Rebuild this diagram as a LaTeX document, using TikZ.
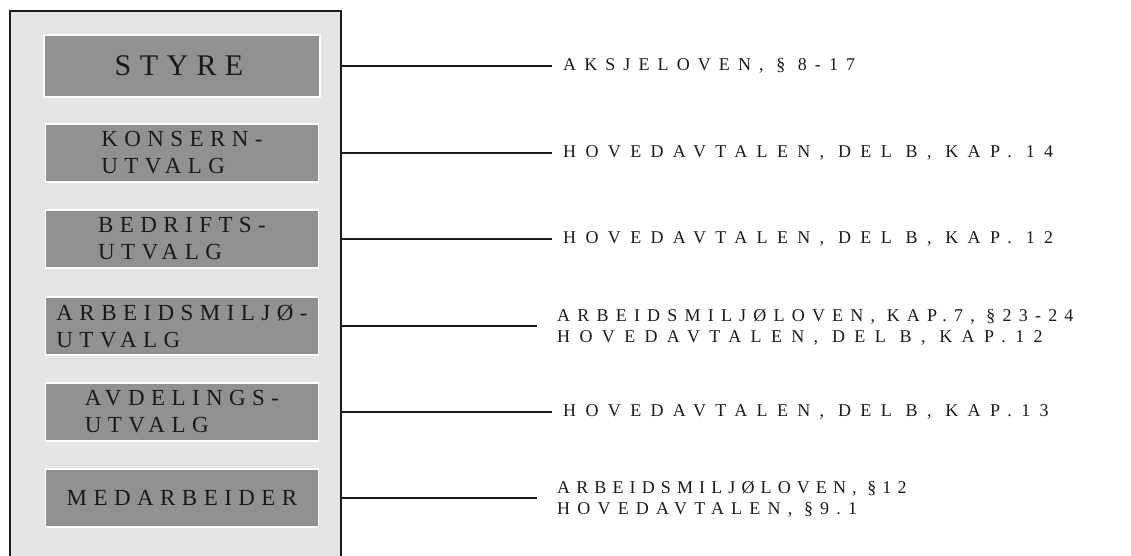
\documentclass[tikz,border=0pt]{standalone}
\usepackage{fontspec}
\setmainfont{Liberation Serif}
\newfontfamily\labfont[LetterSpace=52]{Liberation Serif}
\newfontfamily\labfonta[LetterSpace=45]{Liberation Serif}
\newfontfamily\labfontn[LetterSpace=40]{Liberation Serif}
\newfontfamily\labfontm[LetterSpace=34]{Liberation Serif}
\newfontfamily\boxfont[LetterSpace=28]{Liberation Serif}
\newfontfamily\bigboxfont[LetterSpace=28]{Liberation Serif}
\definecolor{panelgrey}{HTML}{E4E4E4}
\definecolor{boxgrey}{HTML}{919191}
\definecolor{inkblack}{HTML}{1A1A1A}
\begin{document}
\begin{tikzpicture}[x=1pt,y=-1pt,
  panelbox/.style={draw=inkblack, line width=1.8pt, fill=panelgrey},
  unitbox/.style={draw=white, line width=1.5pt, fill=boxgrey, minimum width=273pt, minimum height=58pt,
    inner sep=0pt, align=left, text=inkblack, font={\boxfont\fontsize{23}{27}\selectfont}},
  lawlabel/.style={anchor=west, inner sep=0pt, align=left, text=inkblack, font={\labfont\fontsize{18}{21}\selectfont}},
  conn/.style={draw=inkblack, line width=1.8pt}
]
\useasboundingbox (0,0) rectangle (1131,556);
\begin{scope}
\clip (0,0) rectangle (1131,556);
\draw[panelbox] (10,11) rectangle (341,580);
\end{scope}
\coordinate (pr) at (341,0);

\node[unitbox, minimum width=276pt, minimum height=62pt, font={\bigboxfont\fontsize{30}{33}\selectfont}] (styre) at (182,66) {\hspace*{-6pt}STYRE};
\node[unitbox] (konsern) at (182,153) {KONSERN-\\UTVALG};
\node[unitbox] (bedrift) at (182,239) {BEDRIFTS-\\UTVALG};
\node[unitbox] (amu) at (182,326) {ARBEIDSMILJØ-\\UTVALG};
\node[unitbox] (avd) at (182,412) {AVDELINGS-\\UTVALG};
\node[unitbox] (med) at (182,498) {MEDARBEIDER};

\node[lawlabel, font={\labfonta\fontsize{18}{21}\selectfont}] (l1) at (563,66) {AKSJELOVEN, § 8-17};
\node[lawlabel] (l2) at (563,153) {HOVEDAVTALEN, DEL B, KAP. 14};
\node[lawlabel] (l3) at (563,239) {HOVEDAVTALEN, DEL B, KAP. 12};
\node[lawlabel] (l4) at (557,327) {{\labfontn ARBEIDSMILJØLOVEN, KAP.7, §23-24}\\HOVEDAVTALEN, DEL B, KAP.12};
\node[lawlabel] (l5) at (563,412) {HOVEDAVTALEN, DEL B, KAP.13};
\node[lawlabel] (l6) at (557,499) {{\labfontm ARBEIDSMILJØLOVEN, §12}\\{\labfontn HOVEDAVTALEN, §9.1}};

\draw[conn] (pr |- styre) -- ([xshift=-11pt]l1.west |- styre);
\draw[conn] (pr |- konsern) -- ([xshift=-11pt]l2.west |- konsern);
\draw[conn] (pr |- bedrift) -- ([xshift=-11pt]l3.west |- bedrift);
\draw[conn] (pr |- amu) -- ([xshift=-20pt]l4.west |- amu);
\draw[conn] (pr |- avd) -- ([xshift=-11pt]l5.west |- avd);
\draw[conn] (pr |- med) -- ([xshift=-20pt]l6.west |- med);
\end{tikzpicture}
\end{document}
